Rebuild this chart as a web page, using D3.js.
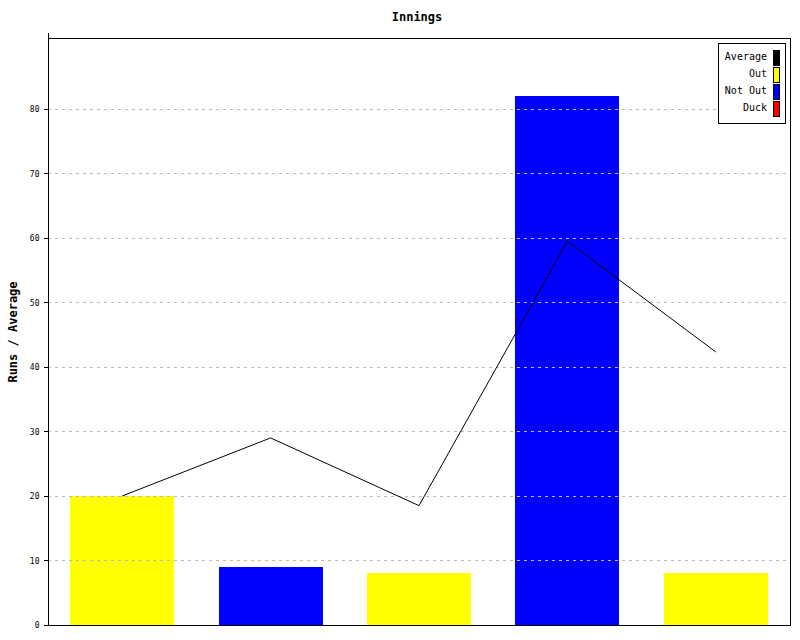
<!DOCTYPE html>
<html><head><meta charset="utf-8">
<script src="https://cdn.jsdelivr.net/npm/d3@7"></script>
<style>body{margin:0;background:#fff}</style>
</head><body>
<svg id="c" width="800" height="640"></svg>
<script>
const innings = ["1","2","3","4","5"];
const runs = [20, 9, 8, 82, 8];
const status = ["Out","Not Out","Out","Not Out","Out"];
const average = [20, 29, 18.5, 59.5, 42.33];
const yTicks = [0,10,20,30,40,50,60,70,80];
const legendItems = ["Average","Out","Not Out","Duck"];
const colors = {"Average":"#000000","Out":"#ffff00","Not Out":"#0000ff","Duck":"#ff0000"};

const svg = d3.select("#c");
const m = {l:48, t:38, r:790, b:625};
const x = d3.scaleBand().domain(innings).range([m.l, m.r]).paddingInner(0.3).paddingOuter(0.15);
const y = d3.scaleLinear().domain([0, 91]).range([m.b, m.t]);
const mono = "'DejaVu Sans Mono', 'Liberation Mono', monospace";

// bars
svg.append("g").selectAll("rect").data(runs).join("rect")
  .attr("x",(d,i)=>x(innings[i])).attr("width",x.bandwidth())
  .attr("y",d=>y(d)).attr("height",d=>y(0)-y(d))
  .attr("fill",(d,i)=>colors[status[i]]).attr("shape-rendering","crispEdges");

// grid
svg.append("g").selectAll("line").data(yTicks.filter(t=>t>0)).join("line")
  .attr("x1",m.l).attr("x2",m.r).attr("y1",d=>Math.round(y(d))+0.5).attr("y2",d=>Math.round(y(d))+0.5)
  .attr("stroke","#bbbbbb").attr("stroke-dasharray","3,4").attr("shape-rendering","crispEdges");

// average line
svg.append("path").datum(average)
  .attr("d", d3.line().x((d,i)=>x(innings[i])+x.bandwidth()/2).y(d=>y(d)))
  .attr("fill","none").attr("stroke","#000").attr("stroke-width",1);

// frame
svg.append("rect").attr("x",m.l+0.5).attr("y",m.t+0.5).attr("width",m.r-m.l).attr("height",m.b-m.t)
  .attr("fill","none").attr("stroke","#000").attr("shape-rendering","crispEdges");

// y axis
const ay = svg.append("g").attr("transform",`translate(${m.l+0.5},0)`)
  .call(d3.axisLeft(y).tickValues(yTicks).tickSize(5).tickPadding(4).tickFormat(d3.format("d")));
ay.select(".domain").attr("d",`M0,${m.t-5}V${m.b+0.5}`).attr("shape-rendering","crispEdges");
ay.selectAll(".tick line").attr("shape-rendering","crispEdges");
ay.selectAll("text").attr("font-family",mono).attr("font-size",8).attr("fill","#000");

// titles
svg.append("text").attr("x",417).attr("y",21).attr("text-anchor","middle")
  .attr("font-family",mono).attr("font-weight","bold").attr("font-size",12).text("Innings");
svg.append("text").attr("transform","translate(17,332) rotate(-90)").attr("text-anchor","middle")
  .attr("font-family",mono).attr("font-weight","bold").attr("font-size",12).text("Runs / Average");

// legend
const lg = svg.append("g");
lg.append("rect").attr("x",718.5).attr("y",43.5).attr("width",67).attr("height",80)
  .attr("fill","#fff").attr("stroke","#000").attr("shape-rendering","crispEdges");
legendItems.forEach((k,i)=>{
  const cy = 58 + i*17;
  lg.append("rect").attr("x",773.5).attr("y",cy-7.5).attr("width",6).attr("height",15)
    .attr("fill",colors[k]).attr("stroke","#000").attr("shape-rendering","crispEdges");
  lg.append("text").attr("x",767).attr("y",cy-2).attr("dy","0.35em").attr("text-anchor","end")
    .attr("font-family",mono).attr("font-size",10).text(k);
});
</script>
</body></html>
